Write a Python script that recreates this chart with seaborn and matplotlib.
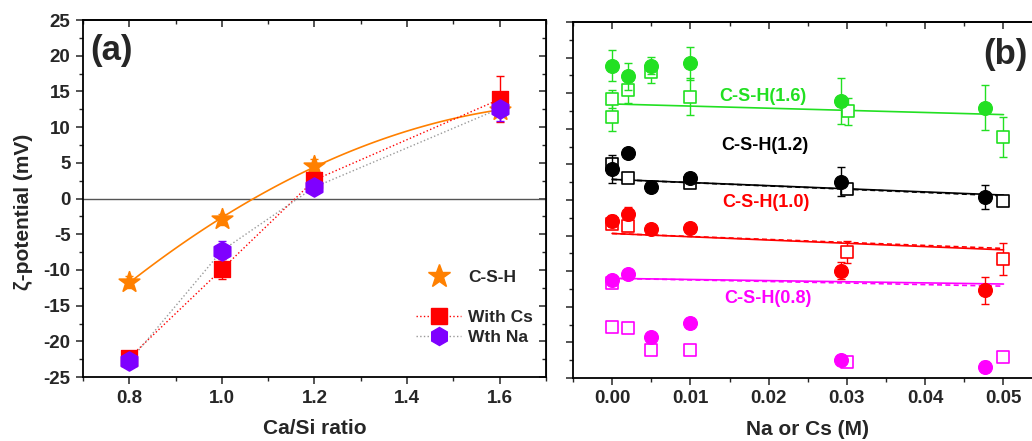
import numpy as np
import pandas as pd
import matplotlib
matplotlib.use("Agg")
import matplotlib.pyplot as plt
from matplotlib.lines import Line2D
from matplotlib.ticker import MultipleLocator, FormatStrFormatter
import seaborn as sns

sns.set_style("ticks")
plt.rcParams['font.family'] = ['Liberation Sans', 'DejaVu Sans']
plt.rcParams['font.weight'] = 'bold'
plt.rcParams['axes.unicode_minus'] = False

# ---------------- Panel (a) data ----------------
ratio = [0.8, 1.0, 1.2, 1.6]
csh_y = [-11.7, -2.9, 4.6, 12.4]
csh_err = [0.8, 0.8, 0.9, 0.8]
cs_y = [-22.3, -9.9, 2.6, 13.9]
cs_err = [0.6, 1.4, 1.0, 3.2]
na_y = [-22.8, -7.3, 1.6, 12.6]
na_err = [0.8, 1.4, 0.7, 1.8]

# ---------------- Panel (b) data ----------------
conc_circ = [0.0, 0.002, 0.005, 0.01, 0.0292, 0.0477]
g_circ = [18.9, 17.4, 18.9, 19.2, 13.9, 13.0]
g_circ_err = [2.2, 1.9, 1.2, 2.3, 3.2, 3.2]
k_circ = [4.35, 6.6, 1.9, 3.1, 2.6, 0.4]
k_circ_err = [2.0, 0.3, 0.3, 0.3, 2.0, 1.7]
r_circ = [-2.9, -1.9, -4.0, -3.9, -9.9, -12.7]
r_circ_err = [0.8, 0.9, 0.5, 0.6, 1.2, 1.9]
m_circ = [-11.2, -10.4, -19.3, -17.3, -22.5, -23.4]
m_circ_err = [0.5, 0.3, 0.3, 0.7, 0.7, 0.8]

g_sq_x = [0.0, 0.0, 0.002, 0.005, 0.01, 0.0301, 0.05]
g_sq = [14.2, 11.7, 15.4, 18.0, 14.5, 12.5, 8.9]
g_sq_err = [1.2, 2.0, 1.8, 1.5, 2.6, 1.9, 2.8]
k_sq_x = [0.0, 0.002, 0.01, 0.030, 0.05]
k_sq = [5.1, 3.1, 2.4, 1.5, -0.1]
k_sq_err = [0.8, 0.3, 0.4, 0.4, 0.3]
r_sq_x = [0.0, 0.002, 0.030, 0.05]
r_sq = [-3.4, -3.7, -7.3, -8.3]
r_sq_err = [0.4, 0.6, 1.5, 2.2]
m_sq_x = [0.0, 0.0, 0.002, 0.005, 0.01, 0.030, 0.05]
m_sq = [-11.7, -17.9, -18.0, -21.1, -21.0, -22.7, -22.1]
m_sq_err = [0.6, 0.3, 0.6, 0.6, 0.6, 0.5, 0.3]

fit_x = [0.0, 0.05]
g_fit = [13.5, 12.0]
k_fit = [2.9, 0.7]
k_fit2 = [2.9, 0.6]
r_fit = [-4.7, -7.0]
r_fit2 = [-4.7, -6.8]
m_fit = [-11.0, -11.8]
m_fit2 = [-11.0, -12.1]

series_labels = ['C-S-H(1.6)', 'C-S-H(1.2)', 'C-S-H(1.0)', 'C-S-H(0.8)']

ORANGE = '#FF8000'
RED = '#FF0000'
PURPLE = '#7F00FF'
GREEN = '#22E022'
MAG = '#FF00FF'
BLACK = '#000000'

fig = plt.figure(figsize=(10.32, 4.41), dpi=100)
axA = fig.add_axes([0.0804, 0.145, 0.4486, 0.8095])
axB = fig.add_axes([0.5552, 0.1429, 0.4551, 0.807])

TICKFS = 13.5
LABELFS = 15


def style_axis(ax, xmaj, xmin, xlim):
    ax.set_xlim(*xlim)
    ax.set_ylim(-25, 25)
    ax.xaxis.set_major_locator(MultipleLocator(xmaj))
    ax.xaxis.set_minor_locator(MultipleLocator(xmin))
    ax.yaxis.set_major_locator(MultipleLocator(5))
    ax.yaxis.set_minor_locator(MultipleLocator(2.5))
    ax.tick_params(which='major', direction='out', length=5, width=1.1,
                   labelsize=TICKFS, top=False, right=False, pad=4)
    ax.tick_params(which='minor', direction='out', length=3, width=1.0,
                   top=False, right=False)
    for s in ax.spines.values():
        s.set_linewidth(1.3)
        s.set_color('black')
    sec = ax.secondary_xaxis('top')
    sec.xaxis.set_major_locator(MultipleLocator(xmaj))
    sec.xaxis.set_minor_locator(MultipleLocator(xmin))
    sec.tick_params(which='major', direction='in', length=5, width=1.1, labeltop=False)
    sec.tick_params(which='minor', direction='in', length=3, width=1.0)
    sec.spines['top'].set_linewidth(1.3)
    return sec


# ---------------- Panel (a) ----------------
style_axis(axA, 0.2, 0.1, (0.7, 1.7))
axA.xaxis.set_major_formatter(FormatStrFormatter('%.1f'))
secy = axA.secondary_yaxis('right')
secy.yaxis.set_major_locator(MultipleLocator(5))
secy.yaxis.set_minor_locator(MultipleLocator(2.5))
secy.tick_params(which='major', direction='in', length=5, width=1.1, labelright=False)
secy.tick_params(which='minor', direction='in', length=3, width=1.0)

axA.axhline(0, color='#555555', lw=1.0, zorder=1)

# fitted curve through the C-S-H points
coef = np.polyfit(ratio, csh_y, 2)
xs = np.linspace(min(ratio), max(ratio), 100)
fit_df = pd.DataFrame({'x': xs, 'y': np.polyval(coef, xs)})
sns.lineplot(data=fit_df, x='x', y='y', ax=axA, color=ORANGE, lw=1.2, zorder=2)

dfA = pd.DataFrame({'x': ratio, 'csh': csh_y, 'cs': cs_y, 'na': na_y})
sns.lineplot(data=dfA, x='x', y='cs', ax=axA, color=RED, lw=1.0, ls=':', zorder=2)
sns.lineplot(data=dfA, x='x', y='na', ax=axA, color='#9a9a9a', lw=1.0, ls=':', zorder=2)

axA.errorbar(ratio, csh_y, yerr=csh_err, fmt='none', ecolor=ORANGE, capsize=3, lw=1, zorder=3)
axA.errorbar(ratio, cs_y, yerr=cs_err, fmt='none', ecolor=RED, capsize=3, lw=1, zorder=3)
axA.errorbar(ratio, na_y, yerr=na_err, fmt='none', ecolor=PURPLE, capsize=3, lw=1, zorder=3)

sns.scatterplot(data=dfA, x='x', y='csh', ax=axA, marker='*', s=240, color=ORANGE,
                edgecolor=ORANGE, zorder=4)
sns.scatterplot(data=dfA, x='x', y='cs', ax=axA, marker='s', s=140, color=RED,
                edgecolor=RED, zorder=5)
sns.scatterplot(data=dfA, x='x', y='na', ax=axA, marker='h', s=190, color=PURPLE,
                edgecolor=PURPLE, zorder=6)

axA.set_xlabel('Ca/Si ratio', fontsize=LABELFS, fontweight='bold', labelpad=9)
axA.set_ylabel('ζ-potential (mV)', fontsize=LABELFS, fontweight='bold')
axA.yaxis.set_label_coords(-0.108, 0.462)
axA.text(0.015, 0.916, '(a)', transform=axA.transAxes, fontsize=25,
         fontweight='bold', ha='left', va='center')

handles = [
    Line2D([], [], ls='none', marker='*', ms=17, color=ORANGE),
    Line2D([], [], ls='none', marker=None),
    Line2D([], [], ls=':', lw=1, color=RED, marker='s', ms=11),
    Line2D([], [], ls=':', lw=1, color='#9a9a9a', marker='h', ms=13,
           markerfacecolor=PURPLE, markeredgecolor=PURPLE),
]
labels = ['C-S-H', '', 'With Cs', 'Wth Na']
leg = axA.legend(handles, labels, loc='upper left', bbox_to_anchor=(0.705, 0.32),
                 frameon=False, fontsize=12.5, handlelength=2.6, handletextpad=0.4,
                 labelspacing=0.28, borderaxespad=0)
for t in leg.get_texts():
    t.set_fontweight('bold')

# ---------------- Panel (b) ----------------
style_axis(axB, 0.01, 0.005, (-0.005, 0.055))
axB.spines['right'].set_visible(False)
axB.tick_params(labelleft=False)
axB.xaxis.set_major_formatter(FormatStrFormatter('%.2f'))

circ_sets = [(g_circ, g_circ_err, GREEN), (k_circ, k_circ_err, BLACK),
             (r_circ, r_circ_err, RED), (m_circ, m_circ_err, MAG)]
sq_sets = [(g_sq_x, g_sq, g_sq_err, GREEN), (k_sq_x, k_sq, k_sq_err, BLACK),
           (r_sq_x, r_sq, r_sq_err, RED), (m_sq_x, m_sq, m_sq_err, MAG)]
fit_sets = [(g_fit, None, GREEN), (k_fit, k_fit2, BLACK), (r_fit, r_fit2, RED),
            (m_fit, m_fit2, MAG)]

for f1, f2, c in fit_sets:
    d = pd.DataFrame({'x': fit_x, 'y': f1})
    sns.lineplot(data=d, x='x', y='y', ax=axB, color=c, lw=1.2, zorder=2)
    if f2 is not None:
        d2 = pd.DataFrame({'x': fit_x, 'y': f2})
        sns.lineplot(data=d2, x='x', y='y', ax=axB, color=c, lw=1.2, ls=(0, (3, 2)), zorder=2)

for xs_, ys_, es_, c in sq_sets:
    axB.errorbar(xs_, ys_, yerr=es_, fmt='none', ecolor=c, capsize=3, lw=1, zorder=3)
    d = pd.DataFrame({'x': xs_, 'y': ys_})
    sns.scatterplot(data=d, x='x', y='y', ax=axB, marker='s', s=85,
                    facecolor='white', edgecolor=c, linewidth=1.2, zorder=4)

for ys_, es_, c in circ_sets:
    axB.errorbar(conc_circ, ys_, yerr=es_, fmt='none', ecolor=c, capsize=3, lw=1, zorder=5)
    d = pd.DataFrame({'x': conc_circ, 'y': ys_})
    sns.scatterplot(data=d, x='x', y='y', ax=axB, marker='o', s=100, color=c,
                    edgecolor=c, zorder=6)

label_pos = [(0.0192, 14.5, GREEN), (0.0195, 7.6, BLACK), (0.0197, -0.3, RED),
             (0.0199, -13.9, MAG)]
for txt, (lx, ly, c) in zip(series_labels, label_pos):
    axB.text(lx, ly, txt, color=c, fontsize=13, fontweight='bold', ha='center', va='center')

axB.text(0.0503, 20.5, '(b)', fontsize=25, fontweight='bold', ha='center', va='center')
axB.set_xlabel('Na or Cs (M)', fontsize=LABELFS, fontweight='bold', labelpad=9)
axB.set_ylabel('')

for ax in (axA, axB):
    for lab in ax.get_xticklabels() + ax.get_yticklabels():
        lab.set_fontweight('bold')

fig.savefig('out.png', dpi=100)
